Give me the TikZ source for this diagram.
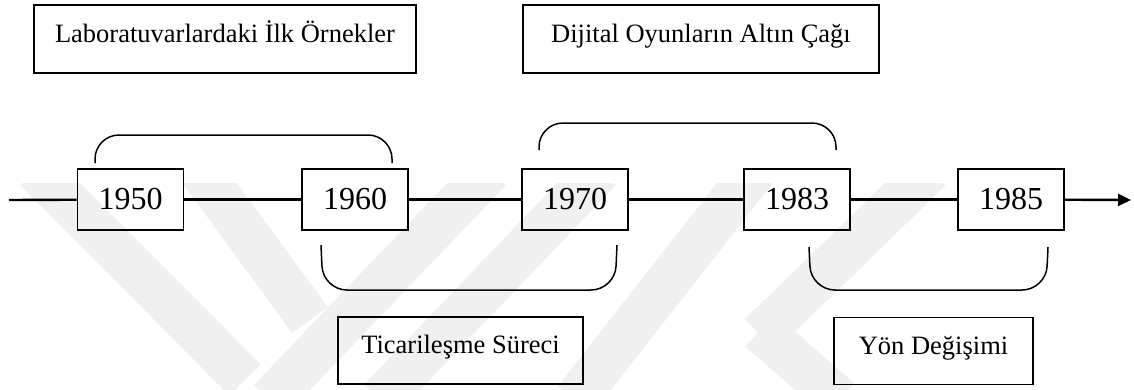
\documentclass[tikz,border=0pt]{standalone}
\usepackage{fontspec}
\setmainfont{Liberation Serif}
\usetikzlibrary{arrows.meta}
\begin{document}
\begin{tikzpicture}[x=1pt,y=-1pt,
  lbl/.style={draw,line width=1.6pt,inner sep=0pt,
    font=\fontsize{26.5}{30}\selectfont,text height=18pt,text depth=12pt},
  yr/.style={draw,line width=1.7pt,inner sep=0pt,minimum width=106pt,minimum height=61pt,
    font=\fontsize{32}{36}\selectfont},
  tl/.style={line width=2.4pt},
  brk/.style={line width=1.5pt,rounded corners=24pt},
  wm/.style={line width=44pt,black!6}]
\useasboundingbox (0,0) rectangle (1134,389);
% faint watermark
\begin{scope}
  \clip (0,183) rectangle (1134,389);
  \draw[wm] (36,170) -- (245,380);
  \draw[wm] (200,170) -- (310,320);
  \draw[wm] (270,400) -- (490,170);
  \draw[wm] (380,400) -- (600,170);
  \draw[wm] (575,400) -- (755,170);
  \draw[wm] (760,335) -- (930,170);
  \draw[wm] (760,330) -- (840,400);
\end{scope}
% label boxes
\node[lbl,minimum width=382pt,minimum height=68pt] (lab) at (225,39) {Laboratuvarlardaki İlk Örnekler};
\node[lbl,minimum width=356pt,minimum height=68pt] (dij) at (701,39) {Dijital Oyunların Altın Çağı};
\node[lbl,minimum width=245pt,minimum height=67pt] (tic) at (460.5,350.5) {Ticarileşme Süreci};
\node[lbl,minimum width=199pt,minimum height=67pt] (yon) at (933.5,351) {Yön Değişimi};
% year boxes
\node[yr] (y50) at (130.5,199.5) {1950};
\node[yr] (y60) at (355,199.5) {1960};
\node[yr] (y70) at (575,199.5) {1970};
\node[yr] (y83) at (797,199.5) {1983};
\node[yr] (y85) at (1011,199.5) {1985};
% timeline
\coordinate (start) at (9,200);
\coordinate (end) at (1131,200);
\draw[tl] (start) -- (y50);
\draw[tl] (y50) -- (y60);
\draw[tl] (y60) -- (y70);
\draw[tl] (y70) -- (y83);
\draw[tl] (y83) -- (y85);
\draw[tl,-{Triangle[length=13pt,width=12pt]}] (y85) -- (end);
% brackets
\draw[brk] (95,163) -- (95,135) -- (392,135) -- (392,163);
\draw[brk] (539,150) -- (539,123) -- (836,123) -- (836,150);
\draw[brk] (321,245) -- (323,290) -- (615,290) -- (617,245);
\draw[brk] (809,247) -- (811,290) -- (1046,290) -- (1048,247);
\end{tikzpicture}
\end{document}
